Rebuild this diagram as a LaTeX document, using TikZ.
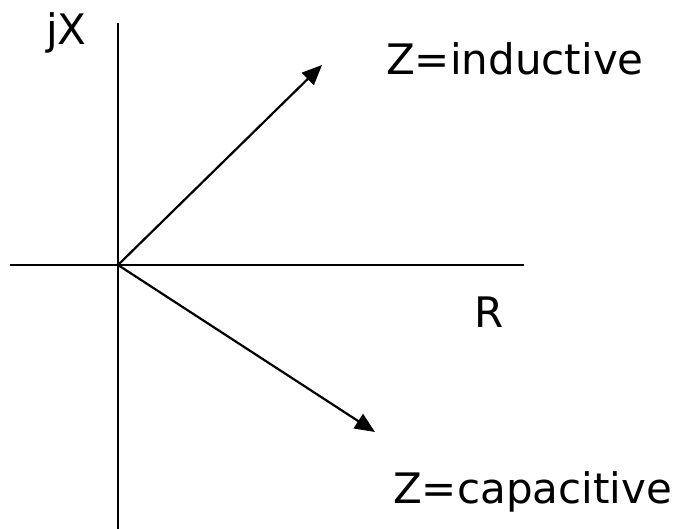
\documentclass[tikz,border=0pt]{standalone}
\usepackage{fontspec}
\setmainfont{DejaVu Sans}
\usetikzlibrary{arrows.meta}
\begin{document}
\begin{tikzpicture}[x=1pt,y=-1pt,
  axis/.style={line width=2.2pt},
  vec/.style={line width=2.2pt,-{Triangle[length=20pt,width=17pt]}},
  lbl/.style={inner sep=0pt,anchor=base west,font=\fontsize{42pt}{48pt}\selectfont}]
\useasboundingbox (0,0) rectangle (674,529);
\coordinate (O) at (118,265);
\coordinate (ytop) at (118,23);
\coordinate (ybot) at (118,529);
\coordinate (xl) at (10,265);
\coordinate (xr) at (524,265);
\coordinate (ind) at (322,65);
\coordinate (cap) at (375,432);
\draw[axis] (ytop) -- (ybot);
\draw[axis] (xl) -- (xr);
\draw[vec] (O) -- (ind);
\draw[vec] (O) -- (cap);
\node[lbl] (jx) at (46,45) {jX};
\node[lbl] (zi) at (386,75) {Z=inductive};
\node[lbl] (r) at (474,327) {R};
\node[lbl] (zc) at (393,503) {Z=capacitive};
\end{tikzpicture}
\end{document}
